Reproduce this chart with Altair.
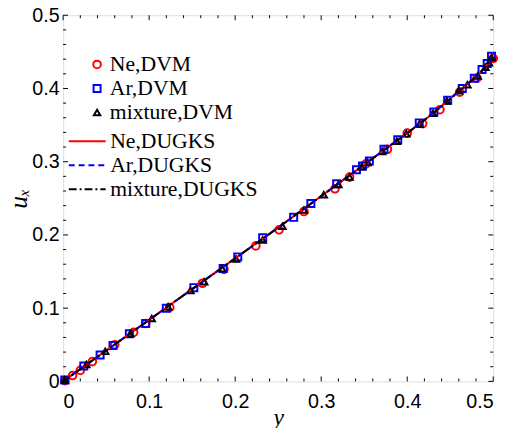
import altair as alt
import pandas as pd

# ---- data ----
ne_y = [0.002, 0.011, 0.020, 0.034, 0.060, 0.082, 0.096, 0.124, 0.162, 0.187, 0.224,
        0.251, 0.280, 0.316, 0.333, 0.352, 0.377, 0.400, 0.418, 0.438, 0.461, 0.481, 0.500]
ne_u = [0.001, 0.008, 0.015, 0.027, 0.050, 0.067, 0.079, 0.101, 0.134, 0.153, 0.185,
        0.207, 0.232, 0.263, 0.279, 0.297, 0.317, 0.339, 0.352, 0.371, 0.395, 0.414, 0.441]

ar_y = [0.002, 0.024, 0.043, 0.058, 0.077, 0.096, 0.120, 0.152, 0.186, 0.203, 0.232,
        0.268, 0.288, 0.318, 0.341, 0.348, 0.356, 0.373, 0.389, 0.414, 0.431, 0.447,
        0.464, 0.478, 0.487, 0.493, 0.498]
ar_u = [0.002, 0.021, 0.036, 0.049, 0.065, 0.079, 0.100, 0.128, 0.154, 0.170, 0.196,
        0.224, 0.243, 0.270, 0.289, 0.294, 0.301, 0.317, 0.330, 0.353, 0.368, 0.384,
        0.400, 0.414, 0.426, 0.434, 0.444]

mix_y = [0.002, 0.027, 0.049, 0.078, 0.103, 0.122, 0.148, 0.164, 0.185, 0.201, 0.232,
         0.255, 0.280, 0.303, 0.320, 0.333, 0.347, 0.354, 0.371, 0.388, 0.399, 0.414,
         0.430, 0.446, 0.460, 0.470, 0.482, 0.491, 0.495, 0.498]
mix_u = [0.002, 0.023, 0.041, 0.065, 0.086, 0.102, 0.124, 0.136, 0.154, 0.167, 0.193,
         0.212, 0.234, 0.255, 0.269, 0.279, 0.293, 0.299, 0.314, 0.328, 0.338, 0.351,
         0.366, 0.383, 0.397, 0.405, 0.417, 0.429, 0.435, 0.442]

line_y = [0.0, 0.05, 0.10, 0.15, 0.20, 0.25, 0.30, 0.35, 0.40, 0.43, 0.46, 0.48, 0.49, 0.50]
ne_line_u = [0.0, 0.042, 0.084, 0.126, 0.168, 0.210, 0.253, 0.296, 0.339, 0.366, 0.396, 0.416, 0.428, 0.443]
ar_line_u = [0.0, 0.042, 0.084, 0.126, 0.168, 0.210, 0.253, 0.296, 0.339, 0.366, 0.396, 0.416, 0.428, 0.443]
mix_line_u = [0.0, 0.042, 0.084, 0.126, 0.168, 0.210, 0.253, 0.296, 0.339, 0.366, 0.396, 0.416, 0.428, 0.443]

marker_series = ["Ne,DVM", "Ar,DVM", "mixture,DVM"]
line_series = ["Ne,DUGKS", "Ar,DUGKS", "mixture,DUGKS"]
colors = ["#ff0000", "#0000ff", "#000000"]

major_ticks = [0, 0.1, 0.2, 0.3, 0.4, 0.5]
minor_ticks = [0.02, 0.04, 0.06, 0.08, 0.12, 0.14, 0.16, 0.18, 0.22, 0.24, 0.26, 0.28,
               0.32, 0.34, 0.36, 0.38, 0.42, 0.44, 0.46, 0.48]

# ---- tables ----
pts = pd.concat([
    pd.DataFrame({"y": ne_y, "u": ne_u, "series": marker_series[0], "ord": 0}),
    pd.DataFrame({"y": ar_y, "u": ar_u, "series": marker_series[1], "ord": 1}),
    pd.DataFrame({"y": mix_y, "u": mix_u, "series": marker_series[2], "ord": 2}),
], ignore_index=True)
lines = pd.concat([
    pd.DataFrame({"y": line_y, "u": ne_line_u, "lseries": line_series[0]}),
    pd.DataFrame({"y": line_y, "u": ar_line_u, "lseries": line_series[1]}),
    pd.DataFrame({"y": line_y, "u": mix_line_u, "lseries": line_series[2]}),
], ignore_index=True)

W, H = 437, 372
MAJ, MIN = 5, 3
SANS = "Liberation Sans"
SERIF = "Liberation Serif"

label_expr = "datum.value == 0 ? '0' : format(datum.value, '.1f')"

x_axis = alt.Axis(values=major_ticks, title="y", labelExpr=label_expr, domain=False,
                  ticks=False, tickSize=0, grid=False, labelFont=SANS, labelFontSize=20,
                  labelPadding=11, labelColor="black", titleFont=SERIF, titleFontStyle="italic",
                  titleFontWeight="normal", titleFontSize=24, titlePadding=-6, titleColor="black")
y_axis = alt.Axis(values=major_ticks, title="uₓ", labelExpr=label_expr, domain=False,
                  ticks=False, tickSize=0, grid=False, labelFont=SANS, labelFontSize=20,
                  labelPadding=4, labelColor="black", titleFont=SERIF, titleFontStyle="italic",
                  titleFontWeight="normal", titleFontSize=26, titlePadding=0, titleColor="black")
xs = alt.Scale(domain=[0, 0.5], nice=False)
ys = alt.Scale(domain=[0, 0.5], nice=False)


def X():
    return alt.X("y:Q", scale=xs, axis=x_axis)


def Y():
    return alt.Y("u:Q", scale=ys, axis=y_axis)


marker_legend = alt.Legend(title=None, orient="none", legendX=23.5, legendY=39, padding=0,
                           labelFont=SERIF, labelFontSize=22, labelFontWeight="normal",
                           labelColor="black", symbolStrokeWidth=2, symbolFillColor="transparent",
                           symbolOpacity=1, rowPadding=2.4, clipHeight=22, labelOffset=2)
line_legend = alt.Legend(title=None, orient="none", legendX=4.5, legendY=117, padding=0,
                         labelFont=SERIF, labelFontSize=22, labelFontWeight="normal",
                         labelColor="black", symbolType="stroke", symbolSize=1400,
                         symbolStrokeWidth=2, rowPadding=2.4, clipHeight=22, labelOffset=3.3)

points = alt.Chart(pts).mark_point(filled=False, strokeWidth=2, opacity=1).encode(
    x=X(), y=Y(),
    color=alt.Color("series:N", scale=alt.Scale(domain=marker_series, range=colors), legend=marker_legend),
    shape=alt.Shape("series:N", scale=alt.Scale(domain=marker_series, range=["circle", "square", "triangle-up"]), legend=marker_legend),
    size=alt.Size("series:N", scale=alt.Scale(domain=marker_series, range=[60, 42, 130]), legend=marker_legend),
    order=alt.Order("ord:Q"),
)

line_layer = alt.Chart(lines).mark_line(strokeWidth=2).encode(
    x=X(), y=Y(),
    stroke=alt.Stroke("lseries:N", scale=alt.Scale(domain=line_series, range=colors), legend=line_legend),
    strokeDash=alt.StrokeDash("lseries:N", scale=alt.Scale(domain=line_series, range=[[1, 0], [6, 4], [8, 3, 2, 3]]), legend=line_legend),
)

xmaj = pd.DataFrame({"y": major_ticks})
xmin = pd.DataFrame({"y": minor_ticks})
ymaj = pd.DataFrame({"u": major_ticks})
ymin = pd.DataFrame({"u": minor_ticks})

tick_layers = []
for df, ln in [(xmaj, MAJ), (xmin, MIN)]:
    tick_layers.append(alt.Chart(df).mark_rule(color="black", strokeWidth=1).encode(
        x=X(), y=alt.value(H), y2=alt.value(H - ln)))
    tick_layers.append(alt.Chart(df).mark_rule(color="black", strokeWidth=1).encode(
        x=X(), y=alt.value(0), y2=alt.value(ln)))
for df, ln in [(ymaj, MAJ), (ymin, MIN)]:
    tick_layers.append(alt.Chart(df).mark_rule(color="black", strokeWidth=1).encode(
        y=Y(), x=alt.value(0), x2=alt.value(ln)))
    tick_layers.append(alt.Chart(df).mark_rule(color="black", strokeWidth=1).encode(
        y=Y(), x=alt.value(W), x2=alt.value(W - ln)))

chart = alt.layer(*tick_layers, points, line_layer).properties(
    width=W, height=H,
    autosize=alt.AutoSizeParams(type="none"),
    padding={"left": 56, "top": 4, "right": 15, "bottom": 44},
).configure_view(stroke="black", strokeWidth=1.5).configure(background="white")

chart.save("out.html", embed_options={"renderer": "svg", "actions": False})
